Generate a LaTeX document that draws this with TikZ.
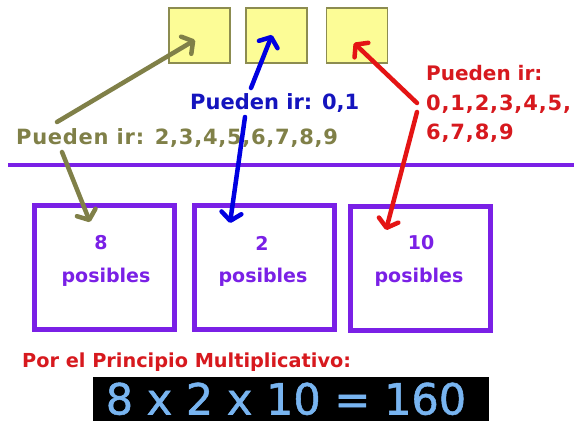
\documentclass[tikz,border=0pt]{standalone}
\usepackage{fontspec}
\setmainfont{DejaVu Sans}
\usetikzlibrary{arrows.meta}
\definecolor{olivec}{RGB}{128,128,72}
\definecolor{bluec}{RGB}{0,0,225}
\definecolor{bluet}{RGB}{20,20,190}
\definecolor{redc}{RGB}{228,20,20}
\definecolor{redt}{RGB}{215,25,30}
\definecolor{purp}{RGB}{122,32,230}
\definecolor{yfill}{RGB}{252,252,150}
\definecolor{yborder}{RGB}{140,140,80}
\definecolor{eqc}{RGB}{120,180,240}
\tikzset{
  ybox/.style={draw=yborder, fill=yfill, line width=1.6pt, minimum width=61pt, minimum height=55pt, inner sep=0pt},
  pbox/.style={draw=purp, line width=5pt, minimum width=140pt, minimum height=124pt, inner sep=0pt},
  lbl/.style={font=\bfseries\fontsize{21}{25}\selectfont, inner sep=0pt, anchor=west},
  ptxt/.style={font=\bfseries\fontsize{19}{23}\selectfont, text=purp, inner sep=0pt},
  conn/.style={line width=4.5pt, line cap=round, -{Straight Barb[length=8pt,width=20pt,line cap=round,line join=round]}},
}
\begin{document}
\begin{tikzpicture}[x=1pt,y=-1pt]
\useasboundingbox (0,0) rectangle (574,421);
\fill[white] (0,0) rectangle (574,421);
% yellow boxes
\node[ybox] (y1) at (199.5,35.5) {};
\node[ybox] (y2) at (276.5,35.5) {};
\node[ybox] (y3) at (357,35.5) {};
% purple separator
\coordinate (ls) at (8,165);
\coordinate (le) at (574,165);
\draw[purp, line width=4pt] (ls) -- (le);
% purple boxes
\node[pbox] (p1) at (104.5,267.5) {};
\node[pbox] (p2) at (264,267.5) {};
\node[pbox] (p3) at (420,268) {};
\node[ptxt] (n1) at (101,243) {8};
\node[ptxt] (t1) at (106,277) {posibles};
\node[ptxt] (n2) at (262,243) {2};
\node[ptxt] (t2) at (263,277) {posibles};
\node[ptxt] (n3) at (421,243) {10};
\node[ptxt] (t3) at (419,277) {posibles};
% labels
\node[lbl, text=olivec, font=\bfseries\fontsize{21}{25}\selectfont\addfontfeature{LetterSpace=3.5}] (lo) at (16,138) {Pueden ir: 2,3,4,5,6,7,8,9};
\node[lbl, text=bluet] (lb) at (190,103) {Pueden ir: 0,1};
\node[lbl, text=redt, font=\bfseries\fontsize{20}{24}\selectfont] (lr1) at (426,73) {Pueden ir:};
\node[lbl, text=redt, font=\bfseries\fontsize{21}{25}\selectfont\addfontfeature{LetterSpace=4}] (lr2) at (426,104) {0,1,2,3,4,5,};
\node[lbl, text=redt, font=\bfseries\fontsize{21}{25}\selectfont\addfontfeature{LetterSpace=4}] (lr3) at (426,133) {6,7,8,9};
% connector points
\coordinate (ao1s) at (57,122);
\coordinate (ao1e) at (195,40);
\coordinate (ao2s) at (62,152);
\coordinate (ao2e) at (90,222);
\coordinate (ab1s) at (251,88);
\coordinate (ab1e) at (272,35);
\coordinate (ab2s) at (245,117);
\coordinate (ab2e) at (230,223);
\coordinate (ar1s) at (417,103);
\coordinate (ar1e) at (354,43);
\coordinate (ar2s) at (417,112);
\coordinate (ar2e) at (386,230);
\draw[conn, olivec] (ao1s) -- (ao1e);
\draw[conn, olivec] (ao2s) -- (ao2e);
\draw[conn, bluec] (ab1s) -- (ab1e);
\draw[conn, bluec] (ab2s) -- (ab2e);
\draw[conn, redc] (ar1s) -- (ar1e);
\draw[conn, redc] (ar2s) -- (ar2e);
% bottom
\node[lbl, text=redt, font=\bfseries\fontsize{19.3}{23}\selectfont] (pm) at (22,362) {Por el Principio Multiplicativo:};
\node[fill=black, minimum width=396pt, minimum height=45pt, inner sep=0pt] (eqbox) at (291,399) {};
\node[text=eqc, font=\fontsize{43}{50}\selectfont\addfontfeature{FakeBold=1.2}, inner sep=0pt, text height=31pt, text depth=0pt] (eq) at (286,399) {8 x 2 x 10 = 160};
\end{tikzpicture}
\end{document}
